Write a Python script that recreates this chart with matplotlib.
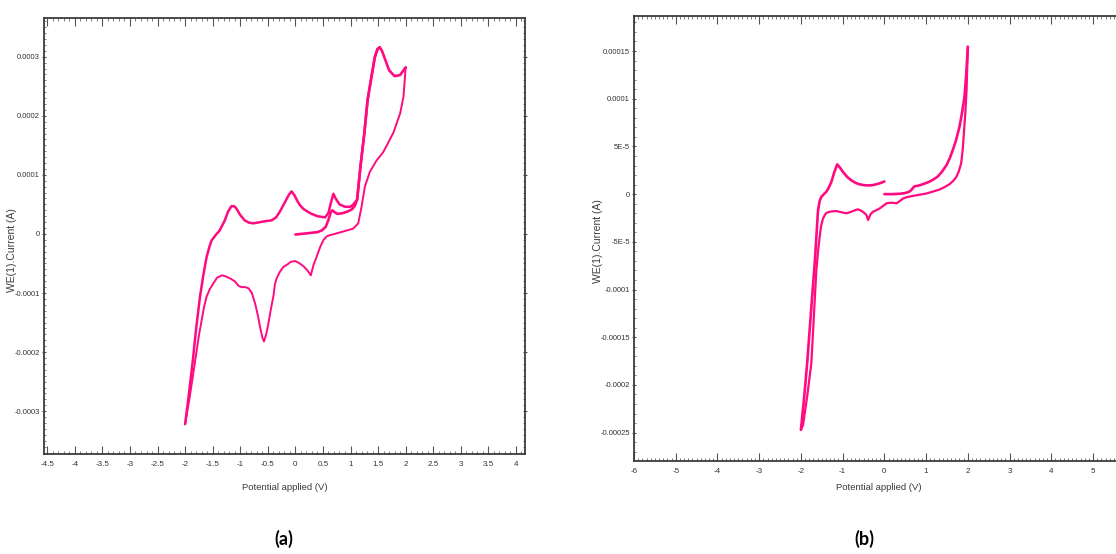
import matplotlib
matplotlib.use("Agg")
import matplotlib.pyplot as plt
from matplotlib.ticker import MultipleLocator

# ---------------- data (a) ----------------
a_fwd1_v = [0, 0.1, 0.2, 0.3, 0.4, 0.48, 0.55, 0.60, 0.64, 0.67, 0.71, 0.76, 0.85, 0.95, 1.03, 1.08,
            1.12, 1.18, 1.25, 1.31, 1.38, 1.44, 1.49, 1.53, 1.57, 1.61, 1.70, 1.80, 1.90, 2.0]
a_fwd1_i = [-0.01, 0.0, 0.01, 0.02, 0.03, 0.06, 0.12, 0.24, 0.36, 0.40, 0.37, 0.34, 0.35, 0.38, 0.42, 0.48,
            0.58, 1.14, 1.70, 2.27, 2.66, 2.99, 3.13, 3.16, 3.10, 3.00, 2.77, 2.67, 2.69, 2.82]
a_rev_v = [2.0, 1.96, 1.90, 1.78, 1.67, 1.59, 1.47, 1.35, 1.26, 1.20, 1.14, 1.05, 0.90, 0.75, 0.63, 0.57,
           0.51, 0.45, 0.38, 0.33, 0.28, 0.22, 0.15, 0.08, 0.0, -0.08, -0.15, -0.22, -0.28, -0.34, -0.37,
           -0.40, -0.45, -0.49, -0.53, -0.57, -0.60, -0.64, -0.68, -0.73, -0.79, -0.85, -0.91, -0.97, -1.03,
           -1.10, -1.19, -1.26, -1.33, -1.42, -1.49, -1.55, -1.61, -1.66, -1.70, -1.75, -1.79, -1.85, -1.92, -2.0]
a_rev_i = [2.82, 2.32, 2.04, 1.72, 1.52, 1.38, 1.24, 1.05, 0.80, 0.46, 0.18, 0.09, 0.05, 0.01, -0.02, -0.04,
           -0.10, -0.22, -0.40, -0.52, -0.70, -0.62, -0.55, -0.50, -0.46, -0.47, -0.52, -0.56, -0.64, -0.75, -0.85,
           -1.06, -1.30, -1.52, -1.70, -1.82, -1.75, -1.58, -1.38, -1.18, -1.00, -0.92, -0.90, -0.90, -0.88,
           -0.80, -0.75, -0.72, -0.70, -0.74, -0.84, -0.93, -1.06, -1.25, -1.46, -1.72, -1.97, -2.35, -2.78, -3.22]
a_fwd2_v = [-2.0, -1.93, -1.86, -1.80, -1.73, -1.67, -1.61, -1.56, -1.52, -1.47, -1.43, -1.38, -1.34, -1.28,
            -1.22, -1.16, -1.11, -1.07, -1.0, -0.92, -0.84, -0.76, -0.64, -0.52, -0.43, -0.35, -0.28, -0.20,
            -0.12, -0.07, -0.02, 0.04, 0.08, 0.15, 0.27, 0.40, 0.54, 0.60, 0.65, 0.69, 0.73, 0.80, 0.90, 1.0,
            1.05, 1.12, 1.18, 1.25, 1.31, 1.38, 1.44, 1.49, 1.53]
a_fwd2_i = [-3.22, -2.70, -2.14, -1.60, -1.06, -0.70, -0.39, -0.22, -0.11, -0.05, 0.0, 0.05, 0.12, 0.23,
            0.38, 0.47, 0.47, 0.43, 0.32, 0.23, 0.19, 0.18, 0.20, 0.22, 0.23, 0.28, 0.38, 0.52,
            0.66, 0.72, 0.66, 0.55, 0.49, 0.42, 0.35, 0.30, 0.28, 0.36, 0.55, 0.68, 0.60, 0.50, 0.46, 0.46,
            0.50, 0.58, 1.14, 1.70, 2.27, 2.66, 2.99, 3.13, 3.16]

# ---------------- data (b) ----------------
b_fwd1_v = [0, 0.1, 0.2, 0.3, 0.4, 0.5, 0.58, 0.64, 0.68, 0.72, 0.78, 0.84, 0.95, 1.08, 1.18, 1.28, 1.38,
            1.49, 1.57, 1.64, 1.72, 1.80, 1.86, 1.92, 1.96, 2.0]
b_fwd1_i = [0.0, 0.0, 0.0, 0.02, 0.05, 0.12, 0.22, 0.40, 0.62, 0.82, 0.86, 0.92, 1.08, 1.30, 1.55, 1.85, 2.35,
            3.05, 3.80, 4.62, 5.70, 7.06, 8.50, 10.2, 12.5, 15.45]
b_rev_v = [2.0, 1.97, 1.94, 1.91, 1.88, 1.84, 1.78, 1.72, 1.64, 1.56, 1.45, 1.32, 1.15, 1.0, 0.85, 0.69,
           0.55, 0.45, 0.36, 0.29, 0.22, 0.17, 0.11, 0.05, -0.02, -0.11, -0.19, -0.27, -0.33, -0.39, -0.43,
           -0.47, -0.55, -0.63, -0.71, -0.79, -0.91, -1.03, -1.15, -1.31, -1.40, -1.47, -1.52, -1.55, -1.59,
           -1.63, -1.69, -1.75, -1.85, -1.95, -2.0]
b_rev_i = [15.45, 11.0, 8.5, 6.7, 4.8, 3.23, 2.35, 1.77, 1.35, 1.04, 0.75, 0.48, 0.25, 0.06, -0.06, -0.18,
           -0.30, -0.46, -0.75, -0.97, -0.92, -0.90, -0.92, -0.97, -1.20, -1.49, -1.68, -1.84, -2.10, -2.71, -2.20,
           -2.01, -1.75, -1.59, -1.70, -1.84, -2.01, -1.90, -1.77, -1.84, -2.0, -2.54, -3.40, -4.46, -6.0,
           -7.95, -12.8, -17.7, -21.2, -24.2, -24.7]
b_fwd2_v = [-2.0, -1.92, -1.85, -1.79, -1.73, -1.67, -1.63, -1.59, -1.55, -1.51, -1.45, -1.39, -1.33, -1.27,
            -1.20, -1.13, -1.06, -0.99, -0.89, -0.79, -0.69, -0.59, -0.47, -0.35, -0.25, -0.15, -0.07, 0.0]
b_fwd2_i = [-24.7, -21.2, -17.7, -14.2, -10.7, -7.25, -4.5, -1.68, -0.7, -0.28, 0.0, 0.25, 0.7, 1.29,
            2.3, 3.12, 2.75, 2.31, 1.8, 1.44, 1.18, 1.02, 0.93, 0.91, 0.97, 1.08, 1.2, 1.33]

# ---------------- ticks ----------------
a_xticks = [-4.5, -4, -3.5, -3, -2.5, -2, -1.5, -1, -0.5, 0, 0.5, 1, 1.5, 2, 2.5, 3, 3.5, 4]
a_xlabels = ["-4.5", "-4", "-3.5", "-3", "-2.5", "-2", "-1.5", "-1", "-0.5", "0", "0.5", "1", "1.5",
             "2", "2.5", "3", "3.5", "4"]
a_yticks = [3e-4, 2e-4, 1e-4, 0, -1e-4, -2e-4, -3e-4]
a_ylabels = ["0.0003", "0.0002", "0.0001", "0", "-0.0001", "-0.0002", "-0.0003"]
b_xticks = [-6, -5, -4, -3, -2, -1, 0, 1, 2, 3, 4, 5]
b_xlabels = ["-6", "-5", "-4", "-3", "-2", "-1", "0", "1", "2", "3", "4", "5"]
b_yticks = [1.5e-4, 1e-4, 5e-5, 0, -5e-5, -1e-4, -1.5e-4, -2e-4, -2.5e-4]
b_ylabels = ["0.00015", "0.0001", "5E-5", "0", "-5E-5", "-0.0001", "-0.00015", "-0.0002", "-0.00025"]

COLOR = "#ff0a80"
NARROW = ["Liberation Sans Narrow", "Liberation Sans", "DejaVu Sans"]
W, H = 1116, 554

fig = plt.figure(figsize=(W / 100, H / 100), dpi=100)
fig.patch.set_facecolor("white")

ax1 = fig.add_axes([43.7 / W, 1 - 454.3 / H, (525.3 - 43.7) / W, (454.3 - 18.3) / H])
ax2 = fig.add_axes([634 / W, 1 - 461 / H, 12.1 * 41.73 / W, (461 - 15.7) / H])


def style(ax, xmin_loc, ymin_loc, xt, xl, yt, yl, xlim, ylim):
    ax.set_xlim(*xlim)
    ax.set_ylim(*ylim)
    ax.set_xticks(xt, xl)
    ax.set_yticks(yt, yl)
    ax.xaxis.set_minor_locator(MultipleLocator(xmin_loc))
    ax.yaxis.set_minor_locator(MultipleLocator(ymin_loc))
    for s in ax.spines.values():
        s.set_color("#3c3c3c")
        s.set_linewidth(1.3)
    ax.tick_params(axis="x", which="major", direction="in", length=5.5, width=0.8, color="#555555",
                   top=True, bottom=True, pad=5, labelsize=5.8, labelcolor="#333333")
    ax.tick_params(axis="x", which="minor", direction="in", length=2.2, width=0.6, color="#666666",
                   top=True, bottom=True)
    ax.tick_params(axis="y", which="major", direction="inout", length=3.5, width=0.8, color="#555555",
                   left=True, right=True, pad=1.2, labelsize=5.5, labelcolor="#333333")
    ax.tick_params(axis="y", which="minor", direction="in", length=1.5, width=0.6, color="#666666",
                   left=True, right=True)
    for t in ax.get_xticklabels() + ax.get_yticklabels():
        t.set_family(NARROW)


style(ax1, 0.1, 1e-5, a_xticks, a_xlabels, a_yticks, a_ylabels, (-4.565, 4.17), (-0.000373, 0.000365))
style(ax2, 0.1, 1e-5, b_xticks, b_xlabels, b_yticks, b_ylabels, (-6.0, 6.1), (-0.0002797, 0.000187))

lw = 1.4
ax1.plot(a_fwd1_v, [v * 1e-4 for v in a_fwd1_i], color=COLOR, lw=lw + 0.5, solid_capstyle="round")
ax1.plot(a_rev_v, [v * 1e-4 for v in a_rev_i], color=COLOR, lw=lw, solid_capstyle="round")
ax1.plot(a_fwd2_v, [v * 1e-4 for v in a_fwd2_i], color=COLOR, lw=lw + 0.4, solid_capstyle="round")

ax2.plot(b_fwd1_v, [v * 1e-5 for v in b_fwd1_i], color=COLOR, lw=lw + 0.5, solid_capstyle="round")
ax2.plot(b_rev_v, [v * 1e-5 for v in b_rev_i], color=COLOR, lw=lw + 0.2, solid_capstyle="round")
ax2.plot(b_fwd2_v, [v * 1e-5 for v in b_fwd2_i], color=COLOR, lw=lw + 0.5, solid_capstyle="round")

# axis titles
lab = dict(color="#3a3a3a", family=["Liberation Sans", "DejaVu Sans"])
fig.text(12.5 / W, 1 - 250 / H, "WE(1).Current (A)", rotation=90, ha="center", va="center", fontsize=7.5, **lab)
fig.text(598 / W, 1 - 241 / H, "WE(1).Current (A)", rotation=90, ha="center", va="center", fontsize=7.5, **lab)
fig.text(284.5 / W, 1 - 487 / H, "Potential applied (V)", ha="center", va="center", fontsize=6.8,
         color="#3a3a3a", family=NARROW)
fig.text(879 / W, 1 - 488 / H, "Potential applied (V)", ha="center", va="center", fontsize=6.8,
         color="#3a3a3a", family=NARROW)

# panel labels
fig.text(284 / W, 1 - 539 / H, "(a)", ha="center", va="center", fontsize=13, fontweight="bold",
         family=["Lato", "DejaVu Sans"], color="black")
fig.text(864 / W, 1 - 539 / H, "(b)", ha="center", va="center", fontsize=13, fontweight="bold",
         family=["Lato", "DejaVu Sans"], color="black")

fig.savefig("out.png", dpi=100, facecolor="white")
